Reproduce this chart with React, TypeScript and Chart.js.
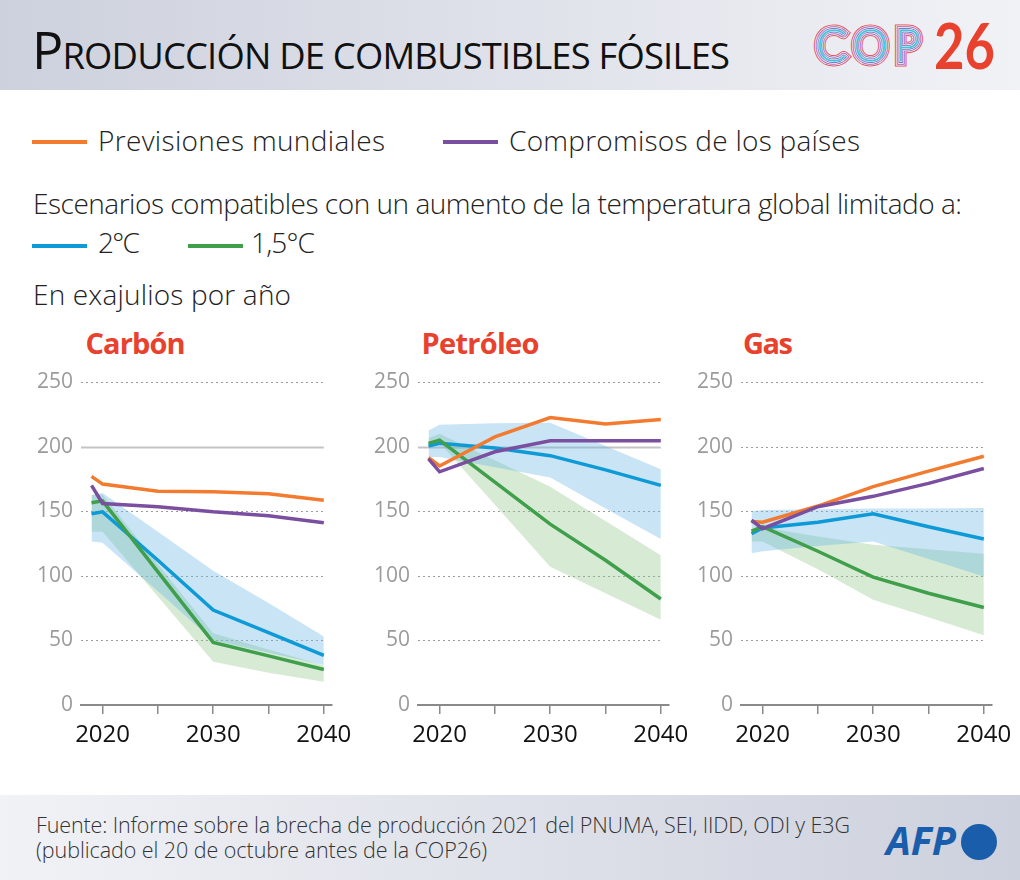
import React, { useEffect, useRef } from 'react';
import { Chart, registerables } from 'chart.js';

Chart.register(...registerables);

// ---------- data ----------
const YEARS = [2019, 2020, 2025, 2030, 2035, 2040];
const X_TICKS = [2020, 2025, 2030, 2035, 2040];
const Y_TICKS = [0, 50, 100, 150, 200, 250];

// Carbón
const coalForecast = [177, 171, 165.5, 165, 163.5, 158.5];
const coalPledges = [170, 156, 153.5, 149.5, 146.5, 141];
const coal2C = [148, 149.5, 112, 73.5, 56, 38.5];
const coal15C = [156.5, 158, 103, 48.5, 38, 27.5];
const coal2CHigh = [162.5, 164, 134, 104, 79, 53];
const coal2CLow = [126.5, 125.5, 88, 50, 40.5, 31];
const coal15CHigh = [162.5, 163, 109, 55.5, 43, 30.5];
const coal15CLow = [134, 134, 84, 33.5, 25, 18];

// Petróleo
const oilForecast = [191.5, 185, 207.5, 222.5, 217.5, 221];
const oilPledges = [190.5, 180.5, 196, 204.5, 204.5, 204.5];
const oil2C = [200.5, 202.5, 199, 193, 182, 170];
const oil15C = [202.5, 205, 172.5, 140, 112, 82];
const oil2CHigh = [212.5, 217, 218, 218.5, 200.5, 182.5];
const oil2CLow = [192, 192, 184, 176, 152, 128.5];
const oil15CHigh = [206.5, 210, 189.5, 169, 142.5, 116];
const oil15CLow = [201, 203, 155, 107, 86.5, 66];

// Gas
const gasForecast = [142, 141.5, 154, 169, 181, 192.5];
const gasPledges = [143, 136.5, 153.5, 161.5, 171.5, 183];
const gas2C = [132.5, 137, 141.5, 148, 138, 128.5];
const gas15C = [134.5, 138, 119, 99, 86.5, 75.5];
const gas2CHigh = [150, 151, 151.5, 152, 152, 152.5];
const gas2CLow = [117.5, 119, 123, 126.5, 113, 99.5];
const gas15CHigh = [135, 137.5, 130.5, 124, 120.5, 117];
const gas15CLow = [126.5, 126.5, 105, 81.5, 68, 54];

// ---------- style ----------
const FONT = '"Open Sans", sans-serif';
const ORANGE = '#f37b2f';
const PURPLE = '#7a4fa0';
const BLUE = '#0e9ad6';
const GREEN = '#3f9f4b';
const BLUE_BAND = 'rgba(110,185,228,0.38)';
const GREEN_BAND = 'rgba(140,196,135,0.36)';
const RED = '#e8412d';

const ctx2d = document.createElement('canvas').getContext('2d') as CanvasRenderingContext2D;

function measure(text: string, family: string, size: number, weight: number | string, italic = false) {
  ctx2d.font = `${italic ? 'italic ' : ''}${weight} ${size}px ${family}`;
  return ctx2d.measureText(text);
}

function topFor(m: TextMetrics, size: number, baseline: number) {
  const A = m.fontBoundingBoxAscent;
  const D = m.fontBoundingBoxDescent;
  return baseline - ((size - (A + D)) / 2 + A);
}

type TxtProps = {
  text: string; x: number; baseline: number; size: number; width?: number;
  family?: string; weight?: number; color?: string; italic?: boolean; scale?: boolean;
};

function Txt({ text, x, baseline, size, width, family = FONT, weight = 400, color = '#222', italic = false, scale = false }: TxtProps) {
  const m = measure(text, family, size, weight, italic);
  const top = topFor(m, size, baseline);
  let ls = 0;
  let transform: string | undefined;
  if (width) {
    if (scale) transform = `scaleX(${width / m.width})`;
    else ls = (width - m.width) / Math.max(1, Array.from(text).length - 1);
  }
  return (
    <div style={{
      position: 'absolute', left: x, top, fontFamily: family, fontSize: size, fontWeight: weight,
      fontStyle: italic ? 'italic' : 'normal', lineHeight: `${size}px`, letterSpacing: `${ls}px`,
      whiteSpace: 'nowrap', color, transform, transformOrigin: 'left top',
    }}>{text}</div>
  );
}

function Title() {
  const big = 52, small = 36.4, baseline = 69, x = 32, width = 698;
  const first = 'P';
  const rest = 'RODUCCIÓN DE COMBUSTIBLES FÓSILES';
  const m1 = measure(first, FONT, big, 400);
  const m2 = measure(rest, FONT, small, 400);
  const ls = (width - m1.width - m2.width) / (Array.from(rest).length);
  const t1 = topFor(m1, big, baseline);
  const t2 = topFor(m2, small, baseline);
  const common = { position: 'absolute' as const, fontFamily: FONT, fontWeight: 400, whiteSpace: 'nowrap' as const, color: '#111' };
  return (
    <>
      <div style={{ ...common, left: x, top: t1, fontSize: big, lineHeight: `${big}px` }}>{first}</div>
      <div style={{ ...common, left: x + m1.width + ls, top: t2, fontSize: small, lineHeight: `${small}px`, letterSpacing: `${ls}px` }}>{rest}</div>
    </>
  );
}

// striped outline letters for the COP logo
const COP_STRIPES = [
  { w: 11, c: '#e8505f' },
  { w: 9, c: '#f4f2f6' },
  { w: 7.5, c: '#a46fb8' },
  { w: 5.5, c: '#f4f2f6' },
  { w: 4, c: '#7c78c8' },
  { w: 2.2, c: '#f4f2f6' },
  { w: 1.2, c: '#3cc6dc' },
];

function CopLogo() {
  const size = 43, fam = 'Lato', wt = 100, baseline = 60.5, x = 816.5, width = 103;
  const m = measure('COP', fam, size, wt);
  const top = topFor(m, size, baseline);
  const ls = (width - m.width) / 2;
  return (
    <>
      {COP_STRIPES.map((s, i) => (
        <div key={i} style={{
          position: 'absolute', left: x, top, fontFamily: fam, fontWeight: wt, fontSize: size,
          lineHeight: `${size}px`, letterSpacing: `${ls}px`, whiteSpace: 'nowrap', color: 'transparent',
          WebkitTextStroke: `${s.w}px ${s.c}`,
        } as any}>COP</div>
      ))}
    </>
  );
}

function Seg({ x1, x2, y, color }: { x1: number; x2: number; y: number; color: string }) {
  return <div style={{ position: 'absolute', left: x1, top: y - 2, width: x2 - x1, height: 4, background: color }} />;
}

const gridPlugin = {
  id: 'customGrid',
  beforeDatasetsDraw(chart: any, _args: any, opts: any) {
    const { ctx, chartArea, scales } = chart;
    const x = scales.x, y = scales.y;
    const xEnd = x.getPixelForValue(opts.endYear);
    y.ticks.forEach((t: any) => {
      if (t.value === 0) return;
      const py = Math.round(y.getPixelForValue(t.value)) + 0.5;
      ctx.save();
      if ((opts.solid || []).includes(t.value)) {
        ctx.strokeStyle = '#c4c4c4'; ctx.lineWidth = 2; ctx.setLineDash([]);
      } else {
        ctx.strokeStyle = '#9c9c9c'; ctx.lineWidth = 1; ctx.setLineDash([2, 3]);
      }
      ctx.beginPath();
      ctx.moveTo(chartArea.left, py);
      ctx.lineTo(xEnd, py);
      ctx.stroke();
      ctx.restore();
    });
  },
};

type Series = {
  forecast: number[]; pledges: number[]; c2: number[]; c15: number[];
  c2Hi: number[]; c2Lo: number[]; c15Hi: number[]; c15Lo: number[];
};

const CW = 348, CH = 395;

function Panel({ chartLeft, series, solid }: { chartLeft: number; series: Series; solid: number[] }) {
  const ref = useRef<HTMLCanvasElement>(null);
  useEffect(() => {
    const pts = (arr: number[]) => YEARS.map((x, i) => ({ x, y: arr[i] }));
    const line = (arr: number[], color: string) => ({
      data: pts(arr), borderColor: color, borderWidth: 3.5, pointRadius: 0, fill: false, tension: 0,
      borderJoinStyle: 'miter' as const,
    });
    const band = (arr: number[], color: string, fill: any) => ({
      data: pts(arr), borderWidth: 0, borderColor: 'rgba(0,0,0,0)', backgroundColor: color,
      pointRadius: 0, fill, tension: 0,
    });
    const chart = new Chart(ref.current as HTMLCanvasElement, {
      type: 'line',
      data: {
        datasets: [
          line(series.pledges, PURPLE),
          line(series.forecast, ORANGE),
          line(series.c15, GREEN),
          line(series.c2, BLUE),
          band(series.c2Hi, BLUE_BAND, '+1'),
          band(series.c2Lo, BLUE_BAND, false),
          band(series.c15Hi, GREEN_BAND, '+1'),
          band(series.c15Lo, GREEN_BAND, false),
        ] as any,
      },
      options: {
        animation: false,
        responsive: false,
        devicePixelRatio: 1,
        layout: { padding: { top: 22, right: 24, left: 0, bottom: 0 } },
        plugins: {
          legend: { display: false },
          tooltip: { enabled: false },
          customGrid: { solid, endYear: 2040 },
        } as any,
        scales: {
          x: {
            type: 'linear', min: 2018.05, max: 2040.7,
            afterBuildTicks: (s: any) => { s.ticks = X_TICKS.map((value) => ({ value })); },
            afterFit: (s: any) => { s.height = 50; },
            grid: { display: true, drawOnChartArea: false, drawTicks: true, tickLength: 9, color: '#8a8a8a', lineWidth: 1.5 },
            border: { display: true, color: '#8a8a8a', width: 2 },
            ticks: {
              autoSkip: false, maxRotation: 0, padding: 7, color: '#111',
              font: { family: FONT, size: 24 },
              callback: (v: any) => (Number(v) % 10 === 0 ? String(v) : ''),
            },
          },
          y: {
            min: 0, max: 250,
            afterBuildTicks: (s: any) => { s.ticks = Y_TICKS.map((value) => ({ value })); },
            afterFit: (s: any) => { s.width = 70; },
            grid: { display: false, drawTicks: false },
            border: { display: false },
            ticks: { padding: 8, color: '#9b9b9b', font: { family: FONT, size: 21 } },
          },
        },
      },
      plugins: [gridPlugin],
    });
    return () => chart.destroy();
  }, []);
  return (
    <canvas ref={ref} width={CW} height={CH}
      style={{ position: 'absolute', left: chartLeft - 70, top: 360, width: CW, height: CH }} />
  );
}

const coal: Series = { forecast: coalForecast, pledges: coalPledges, c2: coal2C, c15: coal15C, c2Hi: coal2CHigh, c2Lo: coal2CLow, c15Hi: coal15CHigh, c15Lo: coal15CLow };
const oil: Series = { forecast: oilForecast, pledges: oilPledges, c2: oil2C, c15: oil15C, c2Hi: oil2CHigh, c2Lo: oil2CLow, c15Hi: oil15CHigh, c15Lo: oil15CLow };
const gas: Series = { forecast: gasForecast, pledges: gasPledges, c2: gas2C, c15: gas15C, c2Hi: gas2CHigh, c2Lo: gas2CLow, c15Hi: gas15CHigh, c15Lo: gas15CLow };

const LEG = 28;
const LEGW = 300;

export default function App() {
  useEffect(() => { document.body.style.margin = '0'; }, []);
  return (
    <div style={{ position: 'absolute', left: 0, top: 0, width: 1020, height: 880, overflow: 'hidden', background: '#fff' }}>
      {/* header */}
      <div style={{ position: 'absolute', left: 0, top: 0, width: 1020, height: 90, background: 'linear-gradient(to right, #cdd1dd, #f1f2f6)' }} />
      <Title />
      <CopLogo />
      <Txt text="26" x={934} baseline={69} size={64} width={61} family="Lato" weight={700} color={RED} scale />

      {/* legend */}
      <Seg x1={32} x2={87} y={142} color={ORANGE} />
      <Txt text="Previsiones mundiales" x={98} baseline={151} size={LEG} weight={LEGW} width={287} />
      <Seg x1={443} x2={498} y={142} color={PURPLE} />
      <Txt text="Compromisos de los países" x={509} baseline={151} size={LEG} weight={LEGW} width={351} />
      <Txt text="Escenarios compatibles con un aumento de la temperatura global limitado a:" x={33} baseline={214} size={LEG} weight={LEGW} width={929} />
      <Seg x1={32} x2={87} y={245.5} color={BLUE} />
      <Txt text="2°C" x={98} baseline={252.7} size={LEG} weight={LEGW} width={42} />
      <Seg x1={188} x2={243} y={245.5} color={GREEN} />
      <Txt text="1,5°C" x={251} baseline={252.7} size={LEG} weight={LEGW} width={64} />
      <Txt text="En exajulios por año" x={33} baseline={305} size={LEG} weight={LEGW} width={258} />

      {/* panel titles */}
      <Txt text="Carbón" x={85.5} baseline={354} size={29} width={100} weight={700} color={RED} />
      <Txt text="Petróleo" x={421.5} baseline={354} size={29} width={118} weight={700} color={RED} />
      <Txt text="Gas" x={743} baseline={354} size={29} width={50} weight={700} color={RED} />

      <Panel chartLeft={81} series={coal} solid={[200]} />
      <Panel chartLeft={418} series={oil} solid={[200]} />
      <Panel chartLeft={741} series={gas} solid={[]} />

      {/* footer */}
      <div style={{ position: 'absolute', left: 0, top: 795, width: 1020, height: 85, background: 'linear-gradient(to right, #f1f2f6, #cdd1dd)' }} />
      <Txt text="Fuente: Informe sobre la brecha de producción 2021 del PNUMA, SEI, IIDD, ODI y E3G" x={36} baseline={833.3} size={21.5} weight={300} width={814} color="#333" />
      <Txt text="(publicado el 20 de octubre antes de la COP26)" x={36} baseline={858.3} size={21.5} weight={300} width={451} color="#333" />
      <Txt text="AFP" x={886} baseline={855} size={40} width={70} weight={700} italic color="#1a5dab" scale />
      <div style={{ position: 'absolute', left: 961, top: 824, width: 36, height: 36, borderRadius: '50%', background: '#1a5dab' }} />
    </div>
  );
}
